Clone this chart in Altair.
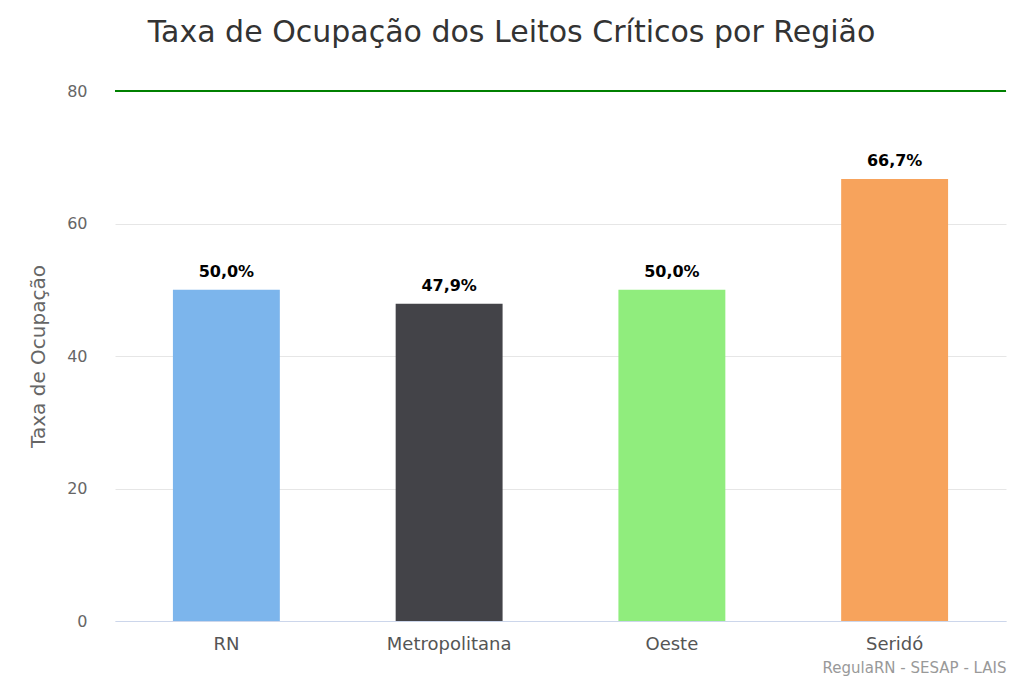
import altair as alt
import pandas as pd

regioes = ["RN", "Metropolitana", "Oeste", "Seridó"]
taxas = [50.0, 47.9, 50.0, 66.7]
cores = ["#7cb5ec", "#434348", "#90ed7d", "#f7a35c"]
limite = [80]

df = pd.DataFrame({"regiao": regioes, "taxa": taxas})
df_lim = pd.DataFrame({"limite": limite})

FONT = "DejaVu Sans"

x_enc = alt.X(
    "regiao:N",
    sort=regioes,
    scale=alt.Scale(paddingInner=0.52, paddingOuter=0.26),
    axis=alt.Axis(
        title="RegulaRN - SESAP - LAIS",
        titleAnchor="end",
        titleAlign="right",
        titleColor="#999999",
        titleFontSize=15,
        titleFontWeight="normal",
        titleFont=FONT,
        titlePadding=7,
        labelAngle=0,
        labelColor="#555555",
        labelFontSize=18,
        labelFont=FONT,
        labelPadding=14,
        ticks=False,
        domainColor="#ccd6eb",
        domainWidth=1,
        grid=False,
    ),
)

y_enc = alt.Y(
    "taxa:Q",
    scale=alt.Scale(domain=[0, 80], nice=False),
    axis=alt.Axis(
        title="Taxa de Ocupação",
        titleColor="#666666",
        titleFontSize=20,
        titleFontWeight="normal",
        titleFont=FONT,
        titlePadding=18,
        values=[0, 20, 40, 60, 80],
        labelColor="#666666",
        labelFontSize=16,
        labelFont=FONT,
        labelPadding=28,
        ticks=False,
        domain=False,
        gridColor="#e6e6e6",
        gridWidth=1,
    ),
)

bars = alt.Chart(df).mark_bar().encode(
    x=x_enc,
    y=y_enc,
    color=alt.Color("regiao:N", scale=alt.Scale(domain=regioes, range=cores), legend=None),
)

labels = alt.Chart(df).transform_calculate(
    rotulo="replace(format(datum.taxa, '.1f'), '.', ',') + '%'"
).mark_text(
    baseline="bottom", dy=-10, fontSize=16, fontWeight="bold", font=FONT, color="#000000"
).encode(
    x=alt.X("regiao:N", sort=regioes),
    y=alt.Y("taxa:Q"),
    text="rotulo:N",
)

rule = alt.Chart(df_lim).mark_rule(color="green", strokeWidth=2).encode(
    y=alt.Y("limite:Q")
)

chart = alt.layer(bars, labels, rule).properties(
    width=891,
    height=530,
    background="white",
    padding={"left": 107, "top": 83, "right": 10, "bottom": 60},
    autosize=alt.AutoSizeParams(type="none"),
    title=alt.TitleParams(
        text="Taxa de Ocupação dos Leitos Críticos por Região",
        fontSize=30,
        font=FONT,
        fontWeight="normal",
        color="#333333",
        anchor="middle",
        frame="group",
        dx=-49,
        offset=35,
    ),
).configure_view(stroke="transparent")

chart.save("out.html", embed_options={"renderer": "svg", "actions": False})
